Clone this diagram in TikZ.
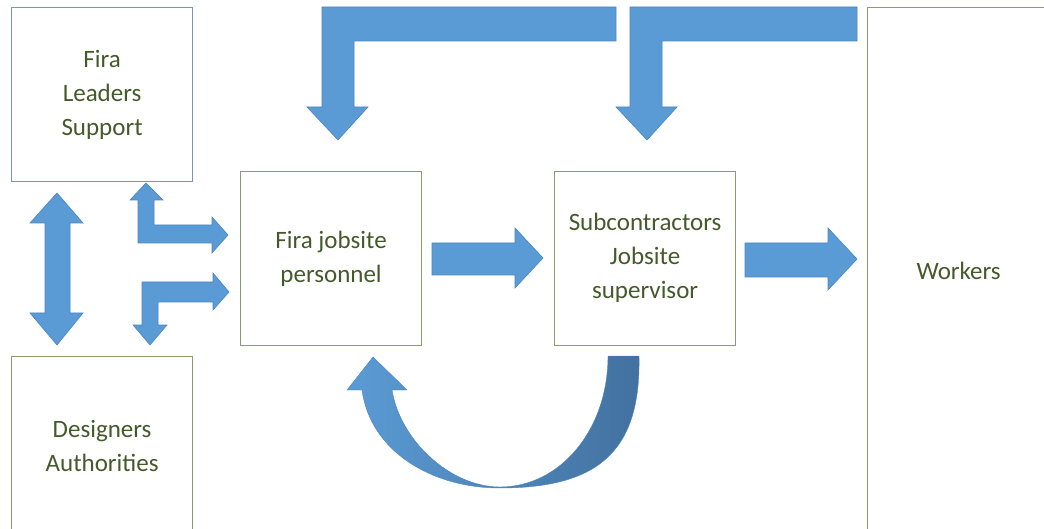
\documentclass[tikz,border=0pt]{standalone}
\usepackage{fontspec}
\setmainfont{Carlito}
\definecolor{arrowblue}{HTML}{5B9BD5}
\definecolor{arrowedge}{HTML}{4A86C4}
\definecolor{curvedark}{HTML}{42719F}
\definecolor{txtgreen}{HTML}{445A2A}
\definecolor{boxgreen}{HTML}{8A9C70}
\definecolor{boxblue}{HTML}{7F93B5}
\begin{document}
\begin{tikzpicture}[x=1pt,y=-1pt,
  box/.style={draw=boxgreen, line width=1.2pt, minimum width=181pt, minimum height=174pt,
    anchor=north west, align=center, text=txtgreen, font=\fontsize{25}{34}\selectfont, inner sep=0pt},
  lower/.style={text depth=4pt},
  blockarrow/.style={fill=arrowblue, draw=arrowedge, line width=0.6pt, line join=miter}]
\useasboundingbox (0,0) rectangle (1044,529);
\begin{scope}
\clip (0,0) rectangle (1044,529);
% boxes
\node[box, draw=boxblue, lower] (leaders) at (11,7) {Fira\\Leaders\\Support};
\node[box, minimum height=178pt] (designers) at (11,356) {Designers\\Authorities};
\node[box, lower] (fira) at (240,171) {Fira jobsite\\personnel};
\node[box, text depth=6pt] (sub) at (554,171) {Subcontractors\\Jobsite\\supervisor};
\node[box, minimum width=182pt, minimum height=526pt] (workers) at (867,7) {Workers};
\end{scope}
% double vertical arrow
\draw[blockarrow] (57,193) -- (83,223) -- (70,223) -- (70,313) -- (83,313) -- (57,345)
  -- (30,313) -- (45,313) -- (45,223) -- (30,223) -- cycle;
% upper bent arrow
\draw[blockarrow] (146,183) -- (163,200) -- (154,200) -- (154,225) -- (212,225) -- (212,217)
  -- (228,235) -- (212,253) -- (212,243) -- (138,243) -- (138,200) -- (130,200) -- cycle;
% lower bent arrow
\draw[blockarrow] (142,282) -- (213,282) -- (213,273) -- (229,292) -- (213,310) -- (213,302)
  -- (158,302) -- (158,325) -- (167,325) -- (150,345) -- (133,325) -- (142,325) -- cycle;
% top bent arrows
\draw[blockarrow] (616,7) -- (616,41) -- (354,41) -- (354,107) -- (368,107) -- (338,140)
  -- (307,107) -- (322,107) -- (322,7) -- cycle;
\draw[blockarrow] (857,7) -- (857,41) -- (662,41) -- (662,107) -- (677,107) -- (647,140)
  -- (616,107) -- (630,107) -- (630,7) -- cycle;
% straight arrows
\draw[blockarrow] (432,243) -- (515,243) -- (515,228) -- (543,258) -- (515,288) -- (515,275)
  -- (432,275) -- cycle;
\draw[blockarrow] (745,243) -- (828,243) -- (828,228) -- (857,259) -- (828,290) -- (828,277)
  -- (745,277) -- cycle;
% curved arrow
\shadedraw[left color=arrowblue, right color=curvedark, draw=arrowedge, line width=0.4pt]
  (639,356) .. controls (641,450) and (600,488) .. (500,488)
  .. controls (430,488) and (370,450) .. (362,390)
  -- (347,390) -- (373,357) -- (407,390) -- (392,390)
  .. controls (400,440) and (450,487) .. (500,487)
  .. controls (560,487) and (608,430) .. (608,356) -- cycle;
\end{tikzpicture}
\end{document}
